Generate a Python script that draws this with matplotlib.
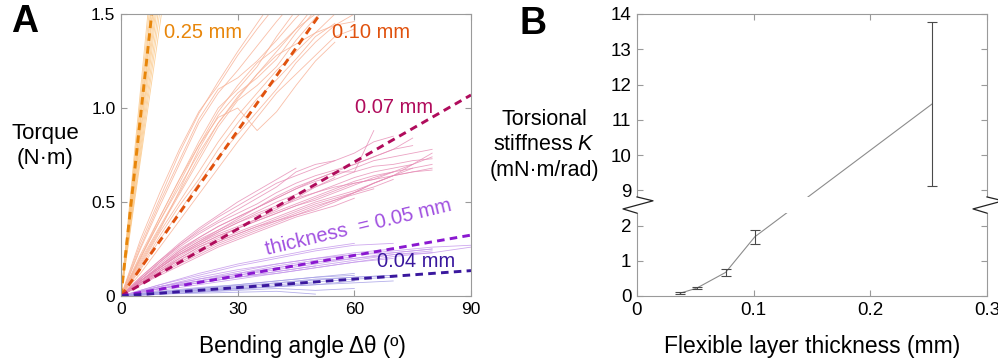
import numpy as np
import matplotlib
matplotlib.use("Agg")
import matplotlib.pyplot as plt
from matplotlib.patches import Rectangle
import matplotlib.transforms as mtransforms

plt.rcParams['font.family'] = ['Liberation Sans', 'DejaVu Sans']
plt.rcParams['mathtext.fontset'] = 'custom'
plt.rcParams['mathtext.rm'] = 'Liberation Sans'
plt.rcParams['mathtext.it'] = 'Liberation Sans:italic'

# ---------------- Panel A data ----------------
thickness_labels = ["0.25 mm", "0.10 mm", "0.07 mm", "thickness  = 0.05 mm", "0.04 mm"]
fit_slopes = [0.190, 0.0293, 0.01188, 0.0036, 0.0015]   # N·m per degree (dashed fits)

# 0.25 mm trials: (angle, torque) points
g25_angles = [[0, 3.4, 6.9], [0, 3.6, 7.2], [0, 3.7, 7.5], [0, 3.9, 7.7], [0, 4.0, 8.0],
              [0, 4.1, 8.2], [0, 4.3, 8.5], [0, 4.4, 8.8], [0, 4.6, 9.1], [0, 4.8, 9.5],
              [0, 5.0, 9.9], [0, 5.2, 10.4]]
g25_torque = [0, 0.75, 1.5]

# 0.10 mm trials on a 5° grid
g10_grid = [0, 5, 10, 15, 20, 25, 30, 35, 40, 45, 50, 55, 60]
g10_trials = [
    [0, .30, .55, .78, .98, 1.12, 1.28, 1.42, 1.55],
    [0, .25, .48, .70, .92, 1.08, 1.20, 1.33, 1.46, 1.58],
    [0, .22, .42, .62, .82, 1.00, 1.10, 1.22, 1.38, 1.52],
    [0, .20, .40, .58, .76, .92, 1.05, 1.18, 1.30, 1.42, 1.55],
    [0, .18, .36, .54, .72, .90, 1.04, 1.12, 1.22, 1.36, 1.48, 1.56],
    [0, .16, .34, .50, .66, .82, .96, 1.08, 1.20, 1.30, 1.40, 1.50],
    [0, .15, .32, .48, .62, .78, .92, 1.05, 1.15, 1.26, 1.38, 1.45],
    [0, .14, .30, .45, .60, .74, .86, .98, 1.10, 1.24, 1.35, 1.44, 1.50],
    [0, .20, .42, .62, .80, .95, 1.00, .88, .98, 1.12, 1.25, 1.35],
    [0, .12, .26, .40, .54, .68, .82, .95, 1.08, 1.18, 1.28, 1.38, 1.42],
    [0, .26, .50, .72, .94, 1.10, 1.16, 1.25, 1.36, 1.48, 1.58],
    [0, .17, .35, .56, .78, .96, 1.08, 1.16, 1.26, 1.40, 1.52],
    [0, .19, .37, .55, .74, .92, 1.06, 1.18, 1.28, 1.34, 1.40, 1.44, 1.46],
    [0, .28, .52, .76, .97, 1.14, 1.30, 1.45, 1.60],
    [0, .21, .40, .60, .80, .98, 1.12, 1.24, 1.32, 1.42, 1.50],
]

# 0.07 mm trials on a 5° grid
g07_grid = [0, 5, 10, 15, 20, 25, 30, 35, 40, 45, 50, 55, 60, 65, 70, 75, 80]
g07_trials = [
    [0, .10, .19, .27, .34, .40, .46, .52, .58, .66, .70, .72],
    [0, .09, .18, .26, .33, .39, .44, .49, .55, .60, .64, .67, .70, .74, .78, .80],
    [0, .09, .17, .25, .31, .37, .42, .47, .52, .57, .61, .64, .68, .72, .74, .76, .78],
    [0, .08, .16, .24, .30, .35, .40, .45, .50, .54, .58, .62, .66, .69, .70, .72, .73],
    [0, .08, .16, .23, .29, .34, .39, .43, .47, .51, .55, .59, .63, .66, .68, .70],
    [0, .08, .15, .22, .28, .33, .37, .41, .45, .49, .53, .57, .61, .64, .66],
    [0, .07, .14, .21, .27, .32, .36, .40, .44, .48, .51, .55, .59, .63, .66, .68, .70],
    [0, .07, .14, .20, .26, .30, .34, .38, .42, .46, .50, .53, .56, .60, .64, .66, .68],
    [0, .07, .13, .19, .25, .29, .33, .37, .41, .45, .49, .52, .55, .58, .62],
    [0, .06, .12, .18, .23, .28, .32, .36, .40, .44, .48, .51, .54, .57],
    [0, .06, .12, .17, .22, .27, .31, .35, .39, .43, .46, .50, .55, .60, .64, .70, .74],
    [0, .06, .11, .16, .21, .26, .30, .34, .38, .42, .45, .48, .52],
    [0, .09, .18, .27, .35, .42, .48, .54, .60, .64, .68, .72, .76, .82, .85],
    [0, .08, .16, .24, .31, .37, .42, .47, .52, .57, .62, .66, .66, .88],
    [0, .08, .15, .23, .29, .35, .41, .47, .53, .58, .62, .66, .70, .74, .78, .84],
    [0, .07, .15, .22, .28, .34, .39, .44, .48, .52, .55, .58, .60, .62, .66, .70, .76],
    [0, .07, .13, .20, .26, .31, .36, .40, .44, .48, .52, .56, .60, .62, .64, .66, .67],
    [0, .10, .19, .28, .36, .43, .50, .56, .62, .68],
    [0, .06, .13, .19, .24, .29, .33, .37, .40, .43, .47, .51, .55, .60, .64, .68],
    [0, .08, .15, .22, .27, .32, .36, .41, .46, .52, .58, .63],
]

# 0.05 mm trials on a 10° grid
g05_grid = [0, 10, 20, 30, 40, 50, 60, 70, 80, 90]
g05_trials = [
    [0, .05, .09, .13, .17, .20, .23, .25],
    [0, .05, .09, .12, .16, .19, .22, .24, .26, .27],
    [0, .04, .08, .11, .14, .17, .20, .23, .25],
    [0, .04, .07, .10, .13, .16, .19, .22, .24],
    [0, .06, .11, .16, .20, .24, .27, .28],
    [0, .04, .07, .10, .12, .15, .18, .20],
    [0, .05, .08, .11, .15, .18, .21],
    [0, .03, .06, .09, .12, .15, .18, .21, .23, .26],
    [0, .05, .10, .14, .17, .20, .22, .23, .25],
    [0, .04, .08, .12, .15, .18, .20, .22, .23],
    [0, .06, .12, .17, .21, .25, .28],
    [0, .04, .07, .10, .13, .16],
]

# 0.04 mm trials on a 10° grid
g04_grid = [0, 10, 20, 30, 40, 50, 60, 70]
g04_trials = [
    [0, .02, .04, .06, .08, .10, .12],
    [0, .02, .035, .05, .07, .09, .10, .11],
    [0, .015, .03, .045, .06, .075, .09, .10],
    [0, .01, .02, .03, .04, .03, .04],
    [0, .02, .03, .04, .05, .06, .08],
    [0, .015, .025, .04, .05, .07],
    [0, .01, .015, .02, .025, .01],
    [0, .02, .04, .055, .07, .085, .10, .11],
    [0, .01, .02, .035, .05, .06, .07, .08],
    [0, .025, .045, .06, .08, .10, .11],
]

trial_colors = ["#FBC47F", "#F8B398", "#E68BB4", "#C69AEC", "#A7A1E6"]
fit_colors = ["#E8860A", "#E0520E", "#B00C5C", "#8A18D0", "#3A189E"]
label_colors = ["#E8860A", "#E0520E", "#B00C5C", "#A050E0", "#3A189E"]

# ---------------- Panel B data ----------------
layer_thickness = [0.037, 0.051, 0.076, 0.101, 0.253]   # mm
K_mean = [0.08, 0.22, 0.67, 1.68, 11.45]                # mN·m/rad
K_err = [0.02, 0.03, 0.11, 0.20, 2.32]
yB_ticklabels = ['0', '1', '2', '9', '10', '11', '12', '13', '14']
BREAK_SHIFT = 6.0

# ---------------- Figure ----------------
fig = plt.figure(figsize=(9.98, 3.62), dpi=100)
axA = fig.add_axes([121/998, 66/362, 350/998, 282/362])
axB = fig.add_axes([637/998, 66/362, 350/998, 282/362])

spine_col = "#9A9A9A"
for ax, lsz in ((axA, 12.5), (axB, 13.5)):
    for s in ax.spines.values():
        s.set_color(spine_col)
        s.set_linewidth(0.8)
    ax.tick_params(direction='in', length=4, width=0.8, color=spine_col,
                   labelsize=lsz, top=True, right=True, pad=4, labelcolor='black')

# Panel A trials
tlw = 0.6
for a in g25_angles:
    axA.plot(a, g25_torque, color=trial_colors[0], lw=tlw, alpha=0.8)
for tr in g10_trials:
    axA.plot(g10_grid[:len(tr)], tr, color=trial_colors[1], lw=tlw, alpha=0.85)
for tr in g07_trials:
    axA.plot(g07_grid[:len(tr)], tr, color=trial_colors[2], lw=tlw, alpha=0.8)
for tr in g05_trials:
    axA.plot(g05_grid[:len(tr)], tr, color=trial_colors[3], lw=tlw, alpha=0.85)
for tr in g04_trials:
    axA.plot(g04_grid[:len(tr)], tr, color=trial_colors[4], lw=tlw, alpha=0.85)

xfit = np.array([0, 90])
for s, c in zip(fit_slopes, fit_colors):
    axA.plot(xfit, s * xfit, color=c, lw=2.1, linestyle=(0, (2.6, 1.8)))

axA.set_xlim(0, 90)
axA.set_ylim(0, 1.5)
axA.set_xticks([0, 30, 60, 90])
axA.set_yticks([0, 0.5, 1.0, 1.5])
axA.set_yticklabels(['0', '0.5', '1.0', '1.5'])

fs_lab = 14.5
axA.text(11.1, 1.404, thickness_labels[0], color=label_colors[0], fontsize=fs_lab, va='center', ha='left')
axA.text(54.3, 1.404, thickness_labels[1], color=label_colors[1], fontsize=fs_lab, va='center', ha='left')
axA.text(60.2, 1.005, thickness_labels[2], color=label_colors[2], fontsize=fs_lab, va='center', ha='left')
axA.text(61.2, 0.365, thickness_labels[3], color=label_colors[3], fontsize=fs_lab, va='center', ha='center',
         rotation=13.5, rotation_mode='anchor')
axA.text(65.8, 0.181, thickness_labels[4], color=label_colors[4], fontsize=fs_lab, va='center', ha='left')

# Panel B
yB = [k - BREAK_SHIFT if k > 5 else k for k in K_mean]
axB.plot(layer_thickness, yB, color="#8C8C8C", lw=0.8, zorder=2)
axB.errorbar(layer_thickness, yB, yerr=K_err, fmt='none', ecolor="#4A4A4A",
             elinewidth=0.8, capsize=3.5, capthick=0.8, zorder=2)
axB.set_xlim(0, 0.3)
axB.set_ylim(0, 8)
axB.set_xticks([0, 0.1, 0.2, 0.3])
axB.set_xticklabels(['0', '0.1', '0.2', '0.3'])
axB.set_yticks(range(9))
axB.set_yticklabels(yB_ticklabels)

# axis break
trB = mtransforms.blended_transform_factory(axB.transAxes, axB.transData)
axB.add_patch(Rectangle((-0.02, 2.36), 1.04, 0.44, transform=trB, facecolor='white',
                        edgecolor='none', clip_on=False, zorder=5))
dx1, dx2 = 16/350, 14/350
for x0 in (0.0, 1.0):
    axB.plot([x0, x0 + dx1, x0 - dx2, x0], [2.81, 2.70, 2.47, 2.35], transform=trB,
             color="#222222", lw=0.9, clip_on=False, zorder=6)

# Labels
fig.text(45/998, 1 - 146/362, "Torque\n(N·m)", ha='center', va='center', fontsize=16, linespacing=1.3)
fig.text(302/998, 1 - 347/362, "Bending angle Δθ (º)", ha='center', va='center', fontsize=16.3)
fig.text(544/998, 1 - 145/362, "Torsional\nstiffness $K$\n(mN·m/rad)", ha='center', va='center',
         fontsize=15.5, linespacing=1.3)
fig.text(812/998, 1 - 347/362, "Flexible layer thickness (mm)", ha='center', va='center', fontsize=16.5)
fig.text(25/998, 1 - 21.5/362, "A", ha='center', va='center', fontsize=27, fontweight='bold')
fig.text(533.5/998, 1 - 24/362, "B", ha='center', va='center', fontsize=27, fontweight='bold')

fig.savefig("out.png", dpi=100)
